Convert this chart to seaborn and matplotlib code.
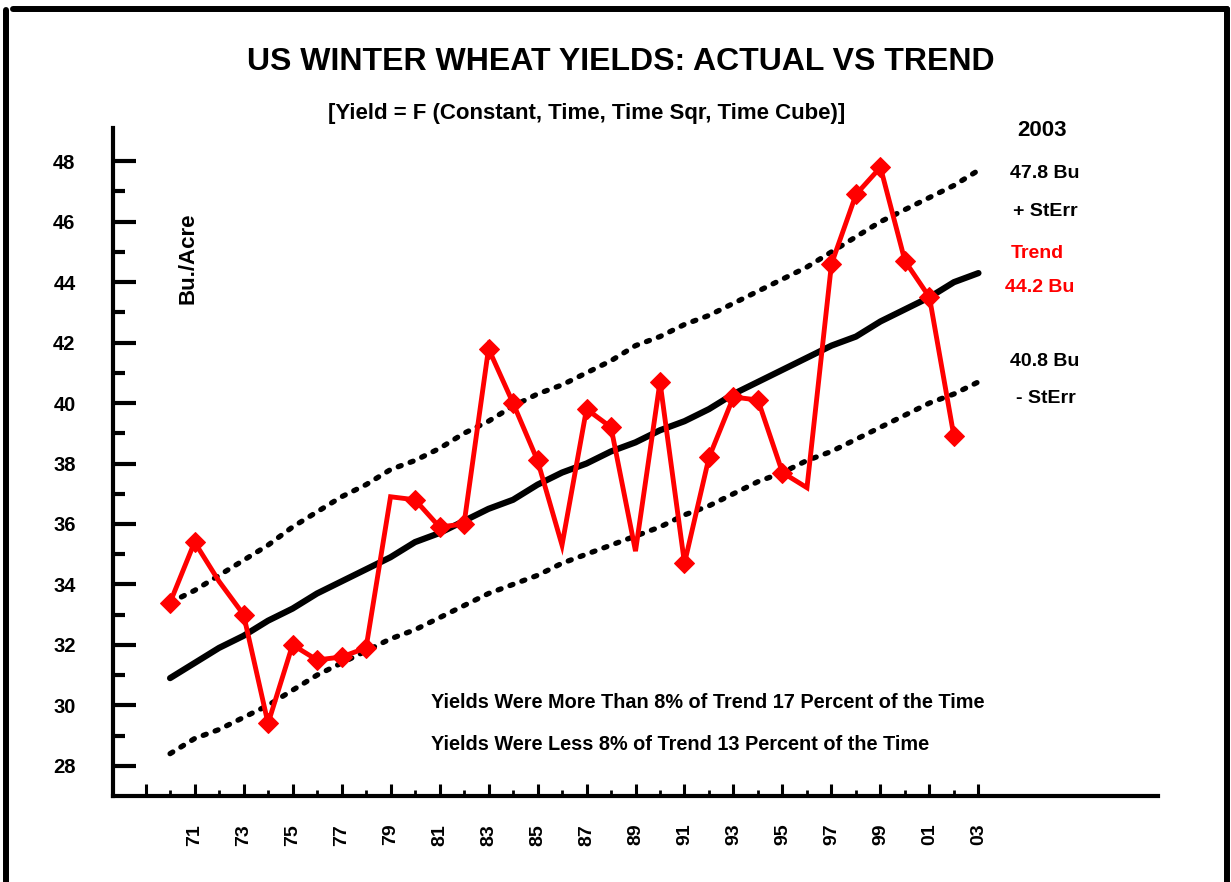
import matplotlib
matplotlib.use("Agg")
import numpy as np
import pandas as pd
import matplotlib.pyplot as plt
import seaborn as sns
from matplotlib.ticker import FixedLocator
from matplotlib.lines import Line2D

# ---- data ----
trend_years = list(range(1970, 2004))
trend = [30.9, 31.4, 31.9, 32.3, 32.8, 33.2, 33.7, 34.1, 34.5, 34.9,
         35.4, 35.7, 36.1, 36.5, 36.8, 37.3, 37.7, 38.0, 38.4, 38.7,
         39.1, 39.4, 39.8, 40.3, 40.7, 41.1, 41.5, 41.9, 42.2, 42.7,
         43.1, 43.5, 44.0, 44.3]
upper = [33.4, 33.8, 34.3, 34.8, 35.3, 35.9, 36.4, 36.9, 37.3, 37.8,
         38.1, 38.5, 39.0, 39.4, 39.9, 40.3, 40.6, 41.0, 41.4, 41.9,
         42.2, 42.6, 42.9, 43.3, 43.7, 44.1, 44.5, 45.0, 45.5, 46.0,
         46.4, 46.8, 47.2, 47.7]
lower = [28.4, 28.9, 29.2, 29.6, 30.0, 30.5, 31.0, 31.4, 31.8, 32.2,
         32.5, 32.9, 33.3, 33.7, 34.0, 34.3, 34.7, 35.0, 35.3, 35.6,
         35.9, 36.3, 36.6, 37.0, 37.4, 37.7, 38.1, 38.4, 38.8, 39.2,
         39.6, 40.0, 40.3, 40.7]

actual_years = list(range(1970, 2003))
actual = [33.4, 35.4, 34.1, 33.0, 29.4, 32.0, 31.5, 31.6, 31.9, 36.9,
          36.8, 35.9, 36.0, 41.8, 40.0, 38.1, 35.3, 39.8, 39.2, 35.1,
          40.7, 34.7, 38.2, 40.2, 40.1, 37.7, 37.2, 44.6, 46.9, 47.8,
          44.7, 43.5, 38.9]
no_marker_years = [1972, 1979, 1986, 1989, 1996]

major_years = list(range(1969, 2004, 2))
minor_years = list(range(1970, 2003, 2))
x_labels = [""] + ["%02d" % (y % 100) for y in major_years[1:]]
y_major = list(range(28, 49, 2))
y_minor = list(range(29, 48, 2))

df_trend = pd.DataFrame({"year": trend_years, "trend": trend,
                         "upper": upper, "lower": lower})
df_act = pd.DataFrame({"year": actual_years, "yield": actual})
mark_idx = [i for i, y in enumerate(actual_years) if y not in no_marker_years]

# ---- style ----
sns.set_style("white")
plt.rcParams["font.family"] = ["Liberation Sans", "DejaVu Sans"]
plt.rcParams["font.weight"] = "bold"
plt.rcParams["text.color"] = "black"
plt.rcParams["xtick.color"] = "black"
plt.rcParams["ytick.color"] = "black"

W, H = 1231, 882
fig = plt.figure(figsize=(W / 100, H / 100), dpi=100)
ax = fig.add_axes([113 / W, (H - 796) / H, (1158 - 113) / W, (796 - 128) / H])

dots = (0, (0.6, 1.8))
sns.lineplot(data=df_trend, x="year", y="upper", ax=ax, color="black",
             lw=3.8, linestyle=dots, dash_capstyle="round")
sns.lineplot(data=df_trend, x="year", y="lower", ax=ax, color="black",
             lw=3.8, linestyle=dots, dash_capstyle="round")
sns.lineplot(data=df_trend, x="year", y="trend", ax=ax, color="black",
             lw=4.5, solid_capstyle="round")
sns.lineplot(data=df_act, x="year", y="yield", ax=ax, color="red", lw=3.5,
             marker="D", markersize=10, markevery=mark_idx,
             markeredgecolor="red", markerfacecolor="red",
             solid_joinstyle="miter")

ax.set_xlim(1967.67, 2010.33)
ax.set_ylim(27.0, 49.1)
ax.set_xlabel("")
ax.set_ylabel("")

ax.xaxis.set_major_locator(FixedLocator(major_years))
ax.xaxis.set_minor_locator(FixedLocator(minor_years))
ax.set_xticklabels(x_labels)
ax.yaxis.set_major_locator(FixedLocator(y_major))
ax.yaxis.set_minor_locator(FixedLocator(y_minor))
ax.set_yticklabels([str(v) for v in y_major])

for s in ["top", "right"]:
    ax.spines[s].set_visible(False)
for s in ["left", "bottom"]:
    ax.spines[s].set_linewidth(3)
    ax.spines[s].set_color("black")

ax.tick_params(axis="y", which="major", direction="in", left=True,
               length=16.5, width=3, pad=27, labelsize=14.5,
               color="black", labelcolor="black")
ax.tick_params(axis="y", which="minor", direction="in", left=True,
               length=8.5, width=3, color="black")
ax.tick_params(axis="x", which="major", direction="in", bottom=True,
               length=9, width=2.2, pad=20, labelsize=14,
               labelrotation=90, color="black", labelcolor="black")
ax.tick_params(axis="x", which="minor", direction="in", bottom=True,
               length=4, width=2, color="black")


def px(x, y):
    return x / W, 1 - y / H


# ---- texts ----
fig.text(*px(621, 62), "US WINTER WHEAT YIELDS: ACTUAL VS TREND",
         ha="center", va="center", fontsize=23, fontweight="bold")
fig.text(*px(587, 113), "[Yield = F (Constant, Time, Time Sqr, Time Cube)]",
         ha="center", va="center", fontsize=16, fontweight="bold")
fig.text(*px(1042, 130), "2003", ha="center", va="center", fontsize=16)
fig.text(*px(1045, 173), "47.8 Bu", ha="center", va="center", fontsize=14)
fig.text(*px(1045, 211), "+ StErr", ha="center", va="center", fontsize=14)
fig.text(*px(1037, 253), "Trend", ha="center", va="center", fontsize=14,
         color="red")
fig.text(*px(1040, 287), "44.2 Bu", ha="center", va="center", fontsize=14,
         color="red")
fig.text(*px(1045, 362), "40.8 Bu", ha="center", va="center", fontsize=14)
fig.text(*px(1046, 399), "- StErr", ha="center", va="center", fontsize=14)
fig.text(*px(188, 258), "Bu./Acre", ha="center", va="center", fontsize=16,
         rotation=90)
fig.text(*px(431, 703),
         "Yields Were More Than 8% of Trend 17 Percent of the Time",
         ha="left", va="center", fontsize=14.3)
fig.text(*px(431, 745),
         "Yields Were Less 8% of Trend 13 Percent of the Time",
         ha="left", va="center", fontsize=14.3)

# ---- outer frame (left, top, right) ----
frame = dict(transform=fig.transFigure, color="black", lw=4.3,
             solid_capstyle="round")
fig.add_artist(Line2D([6 / W, 6 / W], [0, 1 - 10 / H], **frame))
fig.add_artist(Line2D([13 / W, 1227 / W], [1 - 9 / H, 1 - 9 / H], **frame))
fig.add_artist(Line2D([1227 / W, 1227 / W], [0, 1 - 9 / H], **frame))

fig.savefig("out.png", dpi=100)
